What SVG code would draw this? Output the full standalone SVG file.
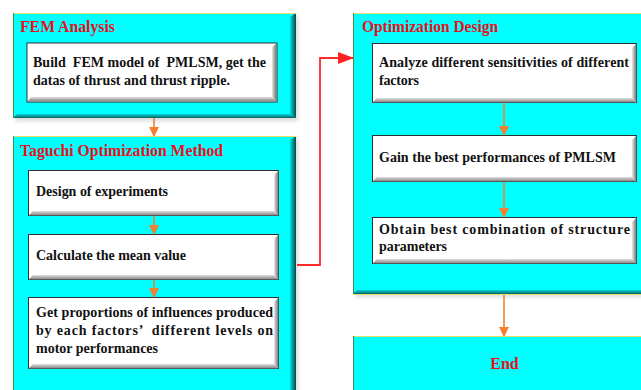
<svg xmlns="http://www.w3.org/2000/svg" width="641" height="390" viewBox="0 0 641 390">
<defs>
<linearGradient id="cR" x1="0" y1="0" x2="1" y2="0"><stop offset="0" stop-color="#00e0e0"/><stop offset="1" stop-color="#004848"/></linearGradient>
<linearGradient id="cB" x1="0" y1="0" x2="0" y2="1"><stop offset="0" stop-color="#00d8d8"/><stop offset="1" stop-color="#006060"/></linearGradient>
<linearGradient id="wR" x1="0" y1="0" x2="1" y2="0"><stop offset="0" stop-color="#e8e8e8"/><stop offset="1" stop-color="#707070"/></linearGradient>
<linearGradient id="wB" x1="0" y1="0" x2="0" y2="1"><stop offset="0" stop-color="#e0e0e0"/><stop offset="1" stop-color="#808080"/></linearGradient>
<filter id="sh" x="-5%" y="-5%" width="115%" height="115%"><feGaussianBlur in="SourceAlpha" stdDeviation="2"/><feOffset dx="2" dy="3"/><feComponentTransfer><feFuncA type="linear" slope="0.15"/></feComponentTransfer><feMerge><feMergeNode/><feMergeNode in="SourceGraphic"/></feMerge></filter>
<marker id="ao" markerWidth="10" markerHeight="10" refX="9" refY="5" orient="auto" markerUnits="userSpaceOnUse"><path d="M0,0 L10,5 L0,10 Z" fill="#F28030"/></marker>
<marker id="ar" markerWidth="16" markerHeight="12" refX="15" refY="6" orient="auto" markerUnits="userSpaceOnUse"><path d="M0,0 L16,6 L0,12 Z" fill="#FF2020"/></marker>
</defs>
<style>
.cy{fill:#00FFFF}
.ctop{stroke:#E0E070;stroke-width:1.2}
.cleft{stroke:#3E8A50;stroke-width:1}
.wb{fill:#FFFFFF;stroke:#303030;stroke-width:1}
.t{font-family:"Liberation Serif","Times New Roman",serif;font-weight:bold;font-size:14px;fill:#111111}
.h{font-family:"Liberation Serif","Times New Roman",serif;font-weight:bold;font-size:16px;fill:#E8101A}
.ao{stroke:#F28030;stroke-width:1.6;fill:none}
.ar{stroke:#FF2A2A;stroke-width:1.8;fill:none}
</style>
<rect width="641" height="390" fill="#FFFFFF"/>

<g id="fem">
<g filter="url(#sh)">
<rect class="cy" x="13" y="13" width="283" height="105"/>
<path d="M290,17 L296,13 L296,118 L290,114 Z" fill="url(#cR)"/>
<path d="M17,114 L290,114 L296,118 L13,118 Z" fill="url(#cB)"/>
</g>
<line class="ctop" x1="13" y1="13.5" x2="296" y2="13.5"/>
<line class="cleft" x1="13.5" y1="13" x2="13.5" y2="118"/>
<text class="h" x="20" y="32" textLength="95" lengthAdjust="spacingAndGlyphs">FEM Analysis</text>
<g id="fem1">
<rect class="wb" x="27" y="43" width="250" height="59"/>
<path d="M272,47 L276.5,43.5 L276.5,101.5 L272,97 Z" fill="url(#wR)"/>
<path d="M31,97 L272,97 L276.5,101.5 L27.5,101.5 Z" fill="url(#wB)"/>
<text class="t" x="33" y="67" textLength="233" lengthAdjust="spacing" xml:space="preserve">Build  FEM model of  PMLSM, get the</text>
<text class="t" x="33" y="85" textLength="197" lengthAdjust="spacing">datas of thrust and thrust ripple.</text>
</g>
</g>

<g id="taguchi">
<g filter="url(#sh)">
<rect class="cy" x="13" y="136" width="283" height="254"/>
<path d="M290,140 L296,136 L296,390 L290,390 Z" fill="url(#cR)"/>
</g>
<line class="ctop" x1="13" y1="136.5" x2="296" y2="136.5"/>
<line class="cleft" x1="13.5" y1="136" x2="13.5" y2="390"/>
<text class="h" x="20" y="156" textLength="203" lengthAdjust="spacingAndGlyphs">Taguchi Optimization Method</text>
<g id="tg1">
<rect class="wb" x="28.5" y="170.5" width="250" height="45"/>
<path d="M274,175 L278.5,170.5 L278.5,215.5 L274,211 Z" fill="url(#wR)"/>
<path d="M33,211 L274,211 L278.5,215.5 L28.5,215.5 Z" fill="url(#wB)"/>
<text class="t" x="36" y="196" textLength="132" lengthAdjust="spacing">Design of experiments</text>
</g>
<g id="tg2">
<rect class="wb" x="28.5" y="234.5" width="250" height="45"/>
<path d="M274,239 L278.5,234.5 L278.5,279.5 L274,275 Z" fill="url(#wR)"/>
<path d="M33,275 L274,275 L278.5,279.5 L28.5,279.5 Z" fill="url(#wB)"/>
<text class="t" x="36" y="260" textLength="150" lengthAdjust="spacing">Calculate the mean value</text>
</g>
<g id="tg3">
<rect class="wb" x="28.5" y="297.5" width="250" height="71"/>
<path d="M274,302 L278.5,297.5 L278.5,368.5 L274,364 Z" fill="url(#wR)"/>
<path d="M33,364 L274,364 L278.5,368.5 L28.5,368.5 Z" fill="url(#wB)"/>
<text class="t" x="36" y="317" textLength="237" lengthAdjust="spacing">Get proportions of influences produced</text>
<text class="t" x="36" y="335" textLength="237" lengthAdjust="spacing" xml:space="preserve">by each factors’  different levels on</text>
<text class="t" x="36" y="353" textLength="122" lengthAdjust="spacing">motor performances</text>
</g>
</g>

<g id="optim">
<g filter="url(#sh)">
<rect class="cy" x="353" y="13" width="292" height="281"/>
<path d="M357,290 L645,290 L645,294 L353,294 Z" fill="url(#cB)"/>
</g>
<line class="ctop" x1="353" y1="13.5" x2="641" y2="13.5"/>
<line class="ctop" x1="353" y1="294.5" x2="641" y2="294.5" stroke="#A8E070"/>
<line class="cleft" x1="353.5" y1="13" x2="353.5" y2="294"/>
<text class="h" x="362" y="32" textLength="136" lengthAdjust="spacingAndGlyphs">Optimization Design</text>
<g id="op1">
<rect class="wb" x="372.5" y="43.5" width="264" height="59"/>
<path d="M632,48 L636.5,43.5 L636.5,102.5 L632,98 Z" fill="url(#wR)"/>
<path d="M377,98 L632,98 L636.5,102.5 L372.5,102.5 Z" fill="url(#wB)"/>
<text class="t" x="379" y="67" textLength="250" lengthAdjust="spacing">Analyze different sensitivities of different</text>
<text class="t" x="379" y="85" textLength="40" lengthAdjust="spacing">factors</text>
</g>
<g id="op2">
<rect class="wb" x="372.5" y="135.5" width="264" height="46"/>
<path d="M632,140 L636.5,135.5 L636.5,181.5 L632,177 Z" fill="url(#wR)"/>
<path d="M377,177 L632,177 L636.5,181.5 L372.5,181.5 Z" fill="url(#wB)"/>
<text class="t" x="379" y="162" textLength="237" lengthAdjust="spacing">Gain the best performances of PMLSM</text>
</g>
<g id="op3">
<rect class="wb" x="372.5" y="217.5" width="264" height="46"/>
<path d="M632,222 L636.5,217.5 L636.5,263.5 L632,259 Z" fill="url(#wR)"/>
<path d="M377,259 L632,259 L636.5,263.5 L372.5,263.5 Z" fill="url(#wB)"/>
<text class="t" x="379" y="234" textLength="251" lengthAdjust="spacing">Obtain best combination of structure</text>
<text class="t" x="379" y="251" textLength="68" lengthAdjust="spacing">parameters</text>
</g>
</g>

<g id="end">
<rect class="cy" x="353" y="336" width="292" height="54"/>
<line class="ctop" x1="353" y1="336.5" x2="641" y2="336.5"/>
<line class="cleft" x1="353.5" y1="336" x2="353.5" y2="390"/>
<text class="h" x="504.5" y="369" text-anchor="middle">End</text>
</g>

<g id="connectors">
<line class="ao" x1="154" y1="118" x2="154" y2="136" marker-end="url(#ao)"/>
<line class="ao" x1="154" y1="216" x2="154" y2="234" marker-end="url(#ao)"/>
<line class="ao" x1="154" y1="280" x2="154" y2="297" marker-end="url(#ao)"/>
<line class="ao" x1="504" y1="103" x2="504" y2="135" marker-end="url(#ao)"/>
<line class="ao" x1="504" y1="182" x2="504" y2="217" marker-end="url(#ao)"/>
<line class="ao" x1="504" y1="295" x2="504" y2="336" marker-end="url(#ao)"/>
<polyline class="ar" points="297,265 320,265 320,58 353,58" marker-end="url(#ar)"/>
</g>
</svg>
